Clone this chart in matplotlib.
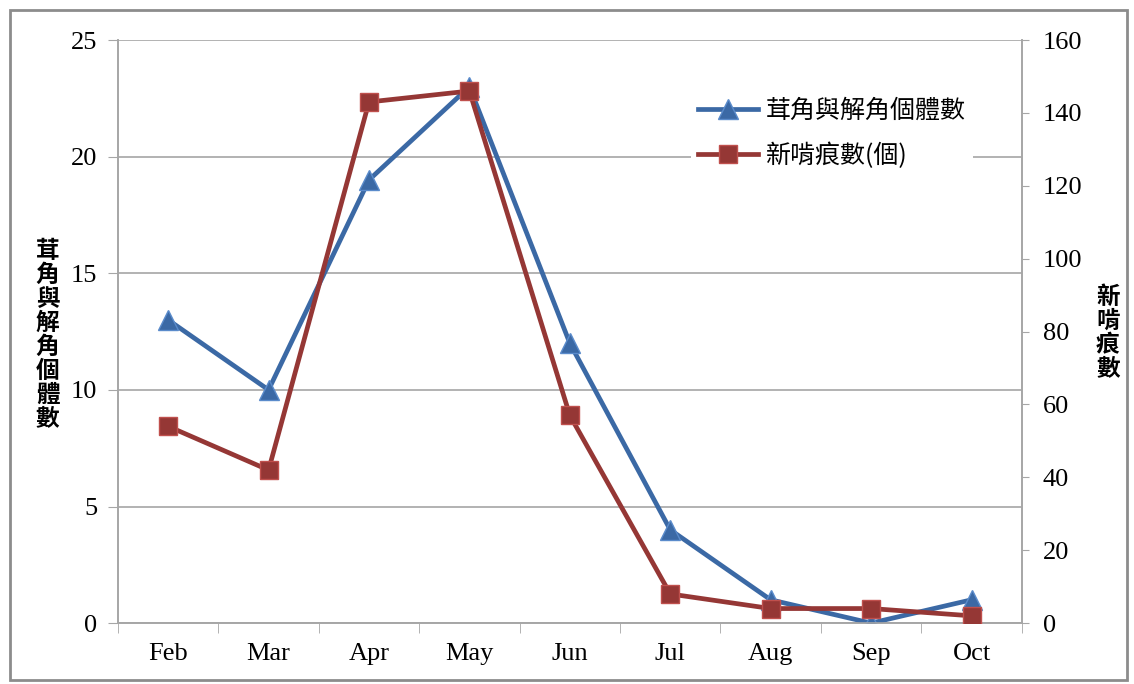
import matplotlib.pyplot as plt
from matplotlib.patches import Rectangle

plt.rcParams['font.family'] = ['Liberation Serif', 'Noto Sans CJK TC', 'DejaVu Sans']

months = ['Feb', 'Mar', 'Apr', 'May', 'Jun', 'Jul', 'Aug', 'Sep', 'Oct']
antler = [13, 10, 19, 23, 12, 4, 1, 0, 1]          # 茸角與解角個體數 (left axis)
gnaw = [54, 42, 143, 146, 57, 8, 4, 4, 2]           # 新啃痕數(個) (right axis)

label_left = '茸角與解角個體數'
label_right = '新啃痕數'
legend_labels = ['茸角與解角個體數', '新啃痕數(個)']

blue = '#3B69A5'
red = '#953735'
gray = '#A6A6A6'

fig = plt.figure(figsize=(11.34, 6.84), dpi=100)
fig.patches.append(Rectangle((0.009, 0.006), 0.985, 0.98, transform=fig.transFigure,
                             fill=False, edgecolor='#8C8C8C', linewidth=2))

ax = fig.add_axes([0.104, 0.089, 0.797, 0.8525])
ax2 = ax.twinx()

x = list(range(len(months)))
l1, = ax.plot(x, antler, color=blue, linewidth=3.4, marker='^', markersize=15,
              markerfacecolor=blue, markeredgecolor='#5A8BCB', markeredgewidth=1, zorder=3)
l2, = ax2.plot(x, gnaw, color=red, linewidth=3.4, marker='s', markersize=13,
               markerfacecolor=red, markeredgecolor='#C0504D', markeredgewidth=1, zorder=3)

ax.set_xlim(-0.5, 8.5)
ax.set_ylim(0, 25)
ax2.set_ylim(0, 160)
ax.set_yticks(range(0, 26, 5))
ax2.set_yticks(range(0, 161, 20))
ax.set_xticks(x)
ax.set_xticklabels(months)
ax.set_xticks([i + 0.5 for i in range(-1, 9)], minor=True)
ax.tick_params(axis='x', which='major', length=0, pad=14, labelsize=19)
ax.tick_params(axis='x', which='minor', length=7, color=gray, direction='out')
ax.tick_params(axis='y', length=7, color=gray, labelsize=19, pad=8)
ax2.tick_params(axis='y', length=5, color=gray, labelsize=19, pad=10)

ax.grid(axis='y', color=gray, linewidth=1.2)
ax.set_axisbelow(True)
for a in (ax, ax2):
    a.spines['top'].set_visible(False)
    for s in ('left', 'right', 'bottom'):
        a.spines[s].set_color(gray)
        a.spines[s].set_linewidth(1.2)

fig.text(0.042, 0.51, '\n'.join(label_left), family=['Noto Sans CJK TC'], fontsize=17,
         fontweight='bold', ha='center', va='center', linespacing=1.0)
fig.text(0.977, 0.513, '\n'.join(label_right), family=['Noto Sans CJK TC'], fontsize=17,
         fontweight='bold', ha='center', va='center', linespacing=1.0)

leg = ax2.legend([l1, l2], legend_labels, loc='upper left', bbox_to_anchor=(0.62, 0.935),
                 frameon=True, facecolor='white', edgecolor='none', framealpha=1,
                 prop={'family': ['Noto Sans CJK TC'], 'size': 18}, handlelength=2.4,
                 labelspacing=0.75, borderpad=0.3, handletextpad=0.3)

fig.savefig('out.png', dpi=100)
